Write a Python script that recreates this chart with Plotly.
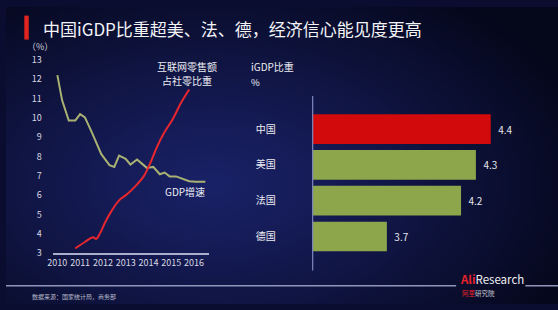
import base64, struct, zlib
import plotly.graph_objects as go

# ---------------- data ----------------
gdp_x = [2010.0, 2010.21, 2010.5, 2010.79, 2011.0, 2011.21, 2011.5, 2011.72, 2011.93, 2012.29,
         2012.5, 2012.71, 2013.0, 2013.21, 2013.5, 2013.71, 2013.93, 2014.21, 2014.5, 2014.71,
         2014.93, 2015.21, 2015.5, 2015.79, 2016.07, 2016.5]
gdp_y = [12.2, 10.9, 9.86, 9.86, 10.19, 10.02, 9.28, 8.7, 8.12, 7.55,
         7.46, 8.04, 7.88, 7.58, 7.84, 7.63, 7.41, 7.46, 7.08, 7.17,
         6.97, 6.97, 6.83, 6.72, 6.69, 6.69]

net_x = [2010.79, 2011.21, 2011.57, 2011.71, 2011.86, 2012.1, 2012.36, 2012.71, 2013.07, 2013.43,
         2013.79, 2014.07, 2014.36, 2014.64, 2015.07, 2015.43, 2015.79]
net_y = [3.25, 3.58, 3.83, 3.74, 4.0, 4.6, 5.15, 5.73, 6.06, 6.47,
         6.97, 7.63, 8.45, 9.12, 9.94, 10.77, 11.46]

year_ticks = [2010, 2011, 2012, 2013, 2014, 2015, 2016]
y_ticks = list(range(3, 14))

countries = ["中国", "美国", "法国", "德国"]
igdp = [4.4, 4.3, 4.2, 3.7]
bar_colors = ["#d20a0c", "#8da64b", "#8da64b", "#8da64b"]

W, H = 558, 310
FONT = "Noto Sans CJK SC"


# ---------------- background gradient (decoration) ----------------
def make_bg(w=140, h=78):
    c_in = (26, 34, 104)
    c_out = (5, 7, 26)
    rows = []
    for j in range(h):
        row = bytearray()
        py_ = (j + 0.5) / h * H
        for i in range(w):
            px_ = (i + 0.5) / w * W
            d = (((px_ - 210) / 400) ** 2 + ((py_ - 185) / 250) ** 2) ** 0.5
            t = min(d, 1.0) ** 1.1
            row += bytes(int(c_in[k] + (c_out[k] - c_in[k]) * t) for k in range(3))
        rows.append(b"\x00" + bytes(row))
    raw = b"".join(rows)

    def chunk(tag, data):
        return struct.pack(">I", len(data)) + tag + data + struct.pack(">I", zlib.crc32(tag + data) & 0xffffffff)

    png = b"\x89PNG\r\n\x1a\n" + chunk(b"IHDR", struct.pack(">IIBBBBB", w, h, 8, 2, 0, 0, 0)) \
        + chunk(b"IDAT", zlib.compress(raw, 9)) + chunk(b"IEND", b"")
    return "data:image/png;base64," + base64.b64encode(png).decode()


def px(x):
    return x / W


def py(y):
    return 1 - y / H


fig = go.Figure()

fig.add_trace(go.Scatter(x=gdp_x, y=gdp_y, mode="lines", line=dict(color="#a9b272", width=2),
                         xaxis="x", yaxis="y", hoverinfo="skip", showlegend=False))
fig.add_trace(go.Scatter(x=net_x, y=net_y, mode="lines", line=dict(color="#e8262e", width=2, shape="spline"),
                         xaxis="x", yaxis="y", hoverinfo="skip", showlegend=False))

fig.add_trace(go.Bar(x=igdp, y=countries, orientation="h", marker=dict(color=bar_colors, line=dict(width=0)),
                     text=[f"\u00a0\u00a0{v}" for v in igdp], textposition="outside",
                     textfont=dict(color="#e6e6ee", size=10, family=FONT), cliponaxis=False,
                     xaxis="x2", yaxis="y2", hoverinfo="skip", showlegend=False))

# axis domains in pixel terms
x_left, x_right = 48, 205          # line chart x axis (2009.83 .. 2016.65)
y_bot, y_top = 257, 55             # 3 .. 13
bx_left = 310                      # bar axis at value 3.2
bpx_per_unit = 150

fig.update_layout(
    width=W, height=H,
    margin=dict(l=0, r=0, t=0, b=0),
    paper_bgcolor="#0a0d30",
    plot_bgcolor="rgba(0,0,0,0)",
    font=dict(family=FONT, color="#d8d8e2", size=9),
    bargap=0.17,
    images=[dict(source=make_bg(), xref="paper", yref="paper", x=0, y=1, sizex=1, sizey=1,
                 sizing="stretch", layer="below")],
    xaxis=dict(domain=[px(x_left), px(x_right)], range=[2009.83, 2016.65], tickvals=year_ticks,
               showgrid=False, zeroline=False, showline=True, linecolor="#a8aecb", linewidth=1.5,
               tickfont=dict(size=9, color="#d8d8e2"), ticks="", fixedrange=True),
    yaxis=dict(domain=[py(y_bot), py(y_top)], range=[3, 13], tickvals=y_ticks,
               showgrid=False, zeroline=False, showline=False,
               ticks="outside", ticklen=9, tickcolor="rgba(0,0,0,0)",
               tickfont=dict(size=9, color="#d8d8e2"), fixedrange=True),
    xaxis2=dict(domain=[px(bx_left), px(bx_left + bpx_per_unit * 1.4)], range=[3.2, 4.6],
                visible=False, fixedrange=True),
    yaxis2=dict(domain=[py(258.2), py(108.8)], autorange="reversed", anchor="x2",
                showgrid=False, zeroline=False, showline=False,
                ticks="outside", ticklen=34, tickcolor="rgba(0,0,0,0)",
                tickfont=dict(size=10, color="#ececf2"), fixedrange=True),
)

shapes = [
    # title accent bar
    dict(type="rect", xref="paper", yref="paper", x0=px(18.5), x1=px(23), y0=py(34), y1=py(9),
         fillcolor="#e0241f", line=dict(width=0)),
    # bar chart vertical axis line
    dict(type="line", xref="paper", yref="paper", x0=px(bx_left), x1=px(bx_left), y0=py(275), y1=py(93),
         line=dict(color="#7f89bd", width=1.2)),
    # footer lines
    dict(type="line", xref="paper", yref="paper", x0=0, x1=px(455), y0=py(291), y1=py(291),
         line=dict(color="#8f96ba", width=1.5)),
    dict(type="line", xref="paper", yref="paper", x0=px(525), x1=1, y0=py(291), y1=py(291),
         line=dict(color="#8f96ba", width=1.5)),
]
fig.update_layout(shapes=shapes)


def ann(text, x, y, size, color="#ececf2", xanchor="left", align="left"):
    return dict(text=text, x=px(x), y=py(y), xref="paper", yref="paper", showarrow=False,
                xanchor=xanchor, yanchor="middle", align=align, borderpad=0,
                font=dict(size=size, color=color, family=FONT))


annotations = [
    ann("中国iGDP比重超美、法、德，经济信心能见度更高", 36, 22, 17, "#f4f4f8"),
    ann("（%）", 34, 41, 9, "#d0d2de", xanchor="center"),
    ann("互联网零售额", 183, 62, 10, "#ececf2", xanchor="center"),
    ann("占社零比重", 183, 77, 10, "#ececf2", xanchor="center"),
    ann("GDP增速", 181, 193, 10, "#ececf2", xanchor="center"),
    ann("iGDP比重", 247, 62, 10, "#ececf2"),
    ann("%", 247, 78, 9.5, "#ececf2"),
    ann("<b><span style='color:#e8232a'>Ali</span></b>Research", 458, 284, 11.5, "#f0f0f4"),
    ann("<span style='color:#e8232a'>阿里</span>研究院", 460, 299, 6.5, "#c8c8d4"),
    ann("数据来源：国家统计局，商务部", 25, 302, 6, "#b8bccc"),
]
fig.update_layout(annotations=annotations)

fig.write_html("out.html", config={"displayModeBar": False})
